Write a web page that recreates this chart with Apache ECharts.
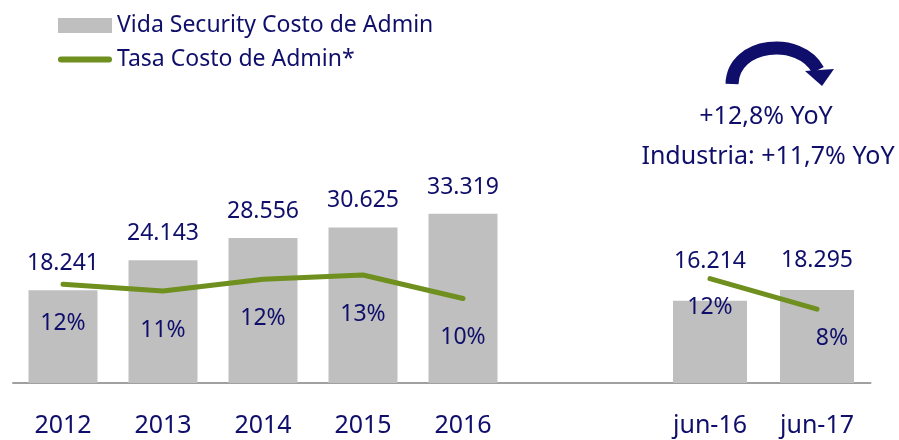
<!DOCTYPE html>
<html>
<head>
<meta charset="utf-8">
<script src="https://cdn.jsdelivr.net/npm/echarts@6/dist/echarts.min.js"></script>
<style>
  html, body { margin: 0; padding: 0; background: #fff; }
  #chart { width: 899px; height: 440px; }
</style>
</head>
<body>
<div id="chart"></div>
<script>
// anuales
let years = ['2012', '2013', '2014', '2015', '2016'];
let yearCost = [18241, 24143, 28556, 30625, 33319];
let yearRate = [11.8, 11.0, 12.4, 12.9, 10.1];
let yearRateLabel = ['12%', '11%', '12%', '13%', '10%'];

// semestral
let months = ['jun-16', 'jun-17'];
let monthCost = [16214, 18295];
let monthRate = [11.6, 8.2];
let monthRateLabel = ['12%', '8%'];

let notes = ['+12,8% YoY', 'Industria: +11,7% YoY'];

let navy = '#0f0f6b';
let gray = '#bfbfbf';
let green = '#6f8f1e';
let font = 'Noto Sans';

let fmt = function (v) {
  return String(v).replace(/\B(?=(\d{3})+(?!\d))/g, '.');
};

let barLabel = {
  show: true,
  position: 'top',
  distance: 15,
  color: navy,
  fontSize: 23,
  fontFamily: font,
  formatter: function (p) { return fmt(p.value); }
};

let xAxisBase = {
  type: 'category',
  axisTick: {show: false},
  axisLine: {lineStyle: {color: '#a0a0a0', width: 2}},
  axisLabel: {color: navy, fontSize: 25, fontFamily: font, margin: 30}
};

let option = {
  animation: false,
  textStyle: {fontFamily: font},
  legend: {
    orient: 'vertical',
    left: 58,
    top: 14,
    padding: 0,
    itemWidth: 54,
    itemHeight: 15,
    itemGap: 11,
    textStyle: {color: navy, fontSize: 23, fontFamily: font},
    data: [
      {name: 'Vida Security Costo de Admin', icon: 'rect', itemStyle: {color: gray}},
      {name: 'Tasa Costo de Admin*', icon: 'path://M3,0 L51,0 A3,3 0 0 1 51,6 L3,6 A3,3 0 0 1 3,0 Z', itemStyle: {color: green, opacity: 1}}
    ]
  },
  grid: [
    {left: 13, top: 98.5, width: 600, height: 284.5},
    {left: 549.5, top: 98.5, width: 321, height: 284.5}
  ],
  xAxis: [
    Object.assign({gridIndex: 0, data: years.concat([''])}, xAxisBase),
    Object.assign({gridIndex: 1, data: [''].concat(months)}, xAxisBase)
  ],
  yAxis: [
    {gridIndex: 0, type: 'value', min: 0, max: 56000, show: false},
    {gridIndex: 0, type: 'value', min: 0, max: 34, show: false},
    {gridIndex: 1, type: 'value', min: 0, max: 56000, show: false},
    {gridIndex: 1, type: 'value', min: 0, max: 31.6, show: false}
  ],
  series: [
    {
      name: 'Vida Security Costo de Admin',
      type: 'bar',
      xAxisIndex: 0,
      yAxisIndex: 0,
      barWidth: 69,
      itemStyle: {color: gray},
      label: barLabel,
      data: yearCost
    },
    {
      name: 'Tasa Costo de Admin*',
      type: 'line',
      xAxisIndex: 0,
      yAxisIndex: 1,
      symbol: 'circle',
      symbolSize: 1,
      itemStyle: {color: 'rgba(0,0,0,0)'},
      lineStyle: {color: green, width: 5, cap: 'round'},
      label: {
        show: true,
        position: 'bottom',
        distance: 27,
        color: navy,
        fontSize: 23,
        fontFamily: font,
        formatter: function (p) { return yearRateLabel[p.dataIndex]; }
      },
      data: yearRate,
      z: 3
    },
    {
      name: 'Vida Security Costo de Admin',
      type: 'bar',
      xAxisIndex: 1,
      yAxisIndex: 2,
      barWidth: 74,
      itemStyle: {color: gray},
      label: barLabel,
      data: ['-'].concat(monthCost.map(function (v, i) {
        return {value: v, label: {distance: i === 0 ? 28 : 18}};
      }))
    },
    {
      name: 'Tasa Costo de Admin*',
      type: 'line',
      xAxisIndex: 1,
      yAxisIndex: 3,
      symbol: 'circle',
      symbolSize: 1,
      itemStyle: {color: 'rgba(0,0,0,0)'},
      lineStyle: {color: green, width: 5, cap: 'round'},
      label: {
        show: true,
        position: 'bottom',
        distance: 17,
        color: navy,
        fontSize: 23,
        fontFamily: font,
        formatter: function (p) { return monthRateLabel[p.dataIndex - 1]; }
      },
      data: ['-'].concat(monthRate.map(function (v, i) {
        return i === 1 ? {value: v, label: {offset: [15, 0]}} : v;
      })),
      z: 3
    }
  ],
  graphic: [
    {
      type: 'bezierCurve',
      shape: {x1: 732, y1: 84, cpx1: 733, cpy1: 42, cpx2: 800, cpy2: 36, x2: 818, y2: 70},
      style: {stroke: navy, lineWidth: 13, fill: null}
    },
    {
      type: 'polygon',
      shape: {points: [[805, 71], [834, 69], [822, 86]]},
      style: {fill: navy}
    },
    {
      type: 'text',
      x: 766,
      y: 117,
      style: {text: notes[0], fill: navy, font: '25px "Noto Sans"', align: 'center', verticalAlign: 'middle'}
    },
    {
      type: 'text',
      x: 768,
      y: 157,
      style: {text: notes[1], fill: navy, font: '25px "Noto Sans"', align: 'center', verticalAlign: 'middle'}
    }
  ]
};

let chart = echarts.init(document.getElementById('chart'));
chart.setOption(option);
</script>
</body>
</html>
